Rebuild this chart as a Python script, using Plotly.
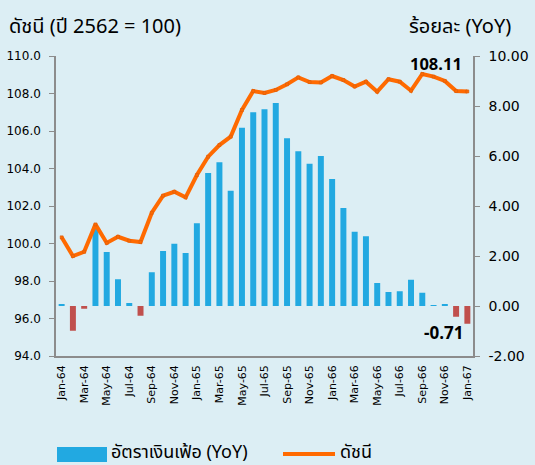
import plotly.graph_objects as go

months = ["Jan-64","Feb-64","Mar-64","Apr-64","May-64","Jun-64","Jul-64","Aug-64","Sep-64","Oct-64","Nov-64","Dec-64",
          "Jan-65","Feb-65","Mar-65","Apr-65","May-65","Jun-65","Jul-65","Aug-65","Sep-65","Oct-65","Nov-65","Dec-65",
          "Jan-66","Feb-66","Mar-66","Apr-66","May-66","Jun-66","Jul-66","Aug-66","Sep-66","Oct-66","Nov-66","Dec-66",
          "Jan-67"]

yoy = [0.07, -0.99, -0.11, 3.17, 2.16, 1.07, 0.12, -0.39, 1.35, 2.20, 2.49, 2.12,
       3.31, 5.32, 5.75, 4.61, 7.13, 7.75, 7.87, 8.12, 6.71, 6.19, 5.69, 6.00,
       5.08, 3.92, 2.97, 2.79, 0.92, 0.56, 0.59, 1.05, 0.53, 0.03, 0.05, -0.43,
       -0.71]

index = [100.33, 99.33, 99.56, 101.02, 100.03, 100.36, 100.15, 100.08, 101.64, 102.55, 102.76, 102.46,
         103.65, 104.63, 105.25, 105.70, 107.12, 108.13, 108.03, 108.19, 108.49, 108.86, 108.61, 108.59,
         108.93, 108.72, 108.37, 108.63, 108.10, 108.76, 108.63, 108.15, 109.04, 108.90, 108.67, 108.13,
         108.11]

tick_months = months[::2]
left_ticks = [94, 96, 98, 100, 102, 104, 106, 108, 110]
right_ticks = [-2, 0, 2, 4, 6, 8, 10]

bar_name = "อัตราเงินเฟ้อ (YoY)"
line_name = "ดัชนี"
left_title = "ดัชนี (ปี 2562 = 100)"
right_title = "ร้อยละ (YoY)"

FONT = "Noto Sans Thai, Noto Sans, Tahoma, sans-serif"
NUMFONT = "Open Sans, sans-serif"
TICKFONT = "DejaVu Sans, Verdana, sans-serif"
BLUE = "#22A9E1"
RED = "#C0504D"
ORANGE = "#FF6A00"
BG = "#DCEEF4"
AX = "#8C8C8C"

# plot area in pixels: x 56..473, y 56..356
L, R, T, B = 56, 473, 56, 356
W, H = R - L, B - T
def px(x):
    return (x - L) / W
def py(y):
    return (B - y) / H

bar_colors = [BLUE if v >= 0 else RED for v in yoy]

fig = go.Figure()
fig.add_trace(go.Bar(x=months, y=yoy, name=bar_name, marker=dict(color=bar_colors, line_width=0),
                     width=0.53, yaxis="y"))
fig.add_trace(go.Scatter(x=months, y=index, name=line_name, mode="lines+markers",
                         line=dict(color=ORANGE, width=4),
                         marker=dict(symbol="square", size=3, color=ORANGE, line=dict(color="#D05A10", width=0.5)),
                         yaxis="y2"))

fig.update_layout(
    width=535, height=465,
    paper_bgcolor=BG, plot_bgcolor=BG,
    margin=dict(l=L, r=535 - R, t=T, b=465 - B, autoexpand=False),
    font=dict(family=FONT, color="#000000"),
    showlegend=False,
    xaxis=dict(type="category", tickvals=tick_months, ticktext=tick_months, tickangle=-90,
               tickfont=dict(size=11, family=TICKFONT), showgrid=False, ticklabelstandoff=3,
               showline=True, linecolor=AX, linewidth=1.5, ticks="", range=[-0.5, len(months) - 0.5]),
    yaxis=dict(side="right", range=[-2, 10], tickvals=right_ticks,
               ticktext=[f"{v:.2f}" for v in right_ticks], showgrid=False, zeroline=False,
               showline=True, linecolor=AX, linewidth=1.5, ticks="outside", ticklen=5, tickcolor=AX,
               ticklabelstandoff=6, tickfont=dict(size=14, family=TICKFONT)),
    yaxis2=dict(overlaying="y", side="left", range=[94, 110], tickvals=left_ticks,
                ticktext=[f"{v:.1f}" for v in left_ticks], showgrid=False, zeroline=False,
                showline=True, linecolor=AX, linewidth=1.5, ticks="outside", ticklen=5, tickcolor=AX,
                ticklabelstandoff=6, tickfont=dict(size=12, family=TICKFONT)),
    shapes=[
        dict(type="rect", xref="paper", yref="paper", x0=px(57), x1=px(107), y0=py(462), y1=py(447),
             fillcolor=BLUE, line_width=0),
        dict(type="line", xref="paper", yref="paper", x0=px(283), x1=px(335), y0=py(454), y1=py(454),
             line=dict(color=ORANGE, width=4)),
    ],
    annotations=[
        dict(text=left_title, xref="paper", yref="paper", x=px(7), y=py(27),
             xanchor="left", yanchor="middle", showarrow=False, font=dict(size=20, family=FONT)),
        dict(text=right_title, xref="paper", yref="paper", x=px(513), y=py(27),
             xanchor="right", yanchor="middle", showarrow=False, font=dict(size=20, family=FONT)),
        dict(text="<b>108.11</b>", x=months[-1], y=index[-1], xref="x", yref="y2",
             xanchor="right", yanchor="middle", xshift=-3, yshift=28, showarrow=False,
             font=dict(size=16.5, family=NUMFONT)),
        dict(text="<b>-0.71</b>", x=months[-1], y=yoy[-1], xref="x", yref="y",
             xanchor="right", yanchor="middle", xshift=-2, yshift=-9, showarrow=False,
             font=dict(size=17, family=NUMFONT)),
        dict(text=bar_name, xref="paper", yref="paper", x=px(109), y=py(452),
             xanchor="left", yanchor="middle", showarrow=False, font=dict(size=18, family=FONT)),
        dict(text=line_name, xref="paper", yref="paper", x=px(338), y=py(452),
             xanchor="left", yanchor="middle", showarrow=False, font=dict(size=18, family=FONT)),
    ],
)

fig.write_html("out.html", config={"displayModeBar": False},
               post_script="document.body.style.margin='0';document.body.style.background='" + BG + "';")
